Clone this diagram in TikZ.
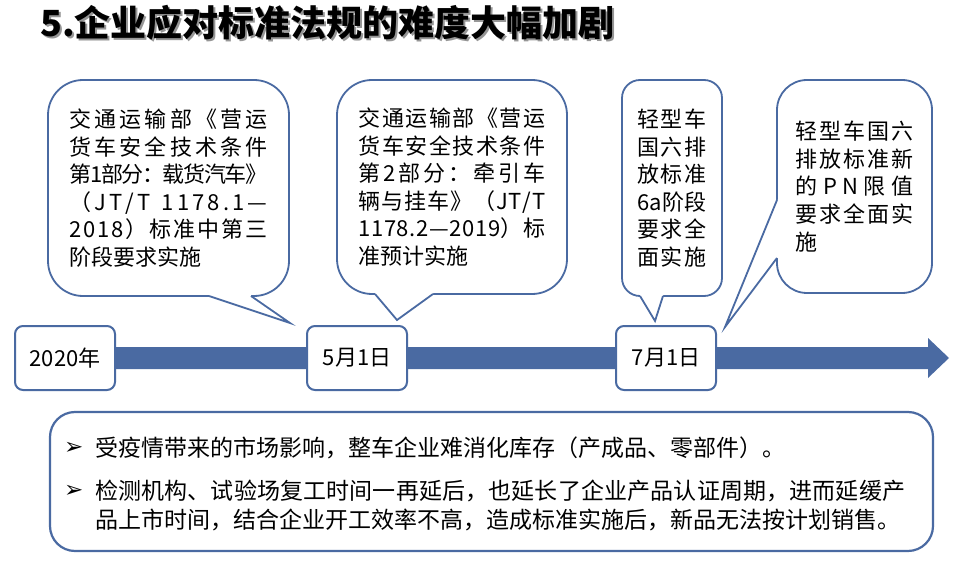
\documentclass[tikz,border=0pt]{standalone}
\usepackage{fontspec}
\setmainfont{Noto Sans CJK SC}
\newfontfamily\symfont{DejaVu Sans}
\usetikzlibrary{calc, positioning}

\definecolor{lineblue}{RGB}{74,106,162}
\definecolor{shadowgray}{RGB}{150,150,150}

\makeatletter
% spread one line of text over a given width
\newcommand\spr[2]{\hbox to #1{\@tfor\spr@ch:=#2\do{\spr@ch\hskip 0pt plus 1fil minus 2pt}\unskip}}
\makeatother
% text with a grey drop shadow
\newcommand\shadowtext[1]{\rlap{\hspace{2pt}\raisebox{-2pt}{\textcolor{shadowgray}{#1}}}#1}

\begin{document}
\begin{tikzpicture}[x=1pt, y=-1pt,
    callbox/.style={draw=lineblue, line width=1.8pt, fill=white, rounded corners=#1,
      inner sep=0pt, outer sep=0pt, align=left, font=\fontsize{22}{27.6}\selectfont},
    callbox/.default=35pt,
    tipline/.style={draw=lineblue, line width=1.8pt, line join=miter},
    datebox/.style={draw=lineblue, line width=2pt, fill=white, rounded corners=8pt,
      minimum width=100pt, minimum height=64pt, inner sep=0pt, font=\fontsize{22}{26}\selectfont},
    notetext/.style={anchor=base west, inner sep=0pt, font=\fontsize{23}{29}\selectfont},
    bullet/.style={anchor=base west, inner sep=0pt, font=\symfont\fontsize{23}{23}\selectfont}]
  \useasboundingbox (0,0) rectangle (970,567);

  % title
  \node[anchor=base west, inner sep=0pt, font=\fontsize{36}{40}\selectfont\bfseries]
    (title) at (40,37) {\shadowtext{5.企业应对标准法规的难度大幅加剧}};

  % callouts
  \node[callbox, minimum width=241pt, minimum height=216pt] (c1) at (168.5,188)
    {\spr{198pt}{交通运输部《营运}\\\spr{198pt}{货车安全技术条件}\\\spr{198pt}{第1部分：载货汽车》}\\
     \spr{198pt}{（JT/T~1178.1—}\\\spr{198pt}{2018）标准中第三}\\阶段要求实施};
  \node[callbox, minimum width=230pt, minimum height=214pt] (c2) at (452,187)
    {\spr{187pt}{交通运输部《营运}\\\spr{187pt}{货车安全技术条件}\\\spr{187pt}{第2部分：牵引车}\\
     \spr{187pt}{辆与挂车》（JT/T}\\\spr{187pt}{1178.2—2019）标}\\准预计实施};
  \node[callbox=18pt, minimum width=100pt, minimum height=216pt] (c3) at (672,188)
    {\spr{70pt}{轻型车}\\\spr{70pt}{国六排}\\\spr{70pt}{放标准}\\\spr{70pt}{6a阶段}\\
     \spr{70pt}{要求全}\\\spr{70pt}{面实施}};
  \node[callbox=30pt, minimum width=155pt, minimum height=213pt] (c4) at (854.5,186.5)
    {\spr{118pt}{轻型车国六}\\\spr{118pt}{排放标准新}\\\spr{118pt}{的PN限值}\\
     \spr{118pt}{要求全面实}\\施};

  \coordinate (t1) at (290,323);
  \coordinate (t2) at (397,320);
  \coordinate (t3) at (655,321);
  \coordinate (t4) at (725,327);

  \fill[white] ($(c1.south west)+(161,-3)$) -- ($(c1.south west)+(161,0)$) -- (t1)
    -- ($(c1.south west)+(203,0)$) -- ($(c1.south west)+(203,-3)$) -- cycle;
  \draw[tipline] ($(c1.south west)+(161,0)$) -- (t1) -- ($(c1.south west)+(203,0)$);
  \fill[white] ($(c2.south west)+(38,-3)$) -- ($(c2.south west)+(38,0)$) -- (t2)
    -- ($(c2.south west)+(96,0)$) -- ($(c2.south west)+(96,-3)$) -- cycle;
  \draw[tipline] ($(c2.south west)+(38,0)$) -- (t2) -- ($(c2.south west)+(96,0)$);
  \fill[white] ($(c3.south west)+(18,-3)$) -- ($(c3.south west)+(18,0)$) -- (t3)
    -- ($(c3.south west)+(41,0)$) -- ($(c3.south west)+(41,-3)$) -- cycle;
  \draw[tipline] ($(c3.south west)+(18,0)$) -- (t3) -- ($(c3.south west)+(41,0)$);
  \fill[white] ($(c4.north west)+(3,120)$) -- ($(c4.north west)+(0,120)$) -- (t4)
    -- ($(c4.north west)+(0,178)$) -- ($(c4.north west)+(3,178)$) -- cycle;
  \draw[tipline] ($(c4.north west)+(0,120)$) -- (t4) -- ($(c4.north west)+(0,178)$);

  % timeline
  \coordinate (tlstart) at (65,358);
  \coordinate (tlend) at (949,358);
  \fill[lineblue] ($(tlstart)+(0,-11)$) -- ($(tlend)+(-21,-11)$) -- ($(tlend)+(-21,-20)$)
    -- (tlend) -- ($(tlend)+(-21,20)$) -- ($(tlend)+(-21,11)$) -- ($(tlstart)+(0,11)$) -- cycle;

  \node[datebox] (d0) at (tlstart) {2020年};
  \node[datebox] (d1) at (357,358) {5月1日};
  \node[datebox] (d2) at (666,358) {7月1日};

  % notes
  \node[draw=lineblue, line width=2.2pt, fill=white, rounded corners=25pt,
    minimum width=883pt, minimum height=139pt] (note) at (491.5,481.5) {};
  \node[bullet] (b1) at (64,454) {➢};
  \node[notetext] (p1) at (95,456) {受疫情带来的市场影响，整车企业难消化库存（产成品、零部件）。};
  \node[bullet] (b2) at (64,497) {➢};
  \node[notetext] (p2) at (95,499)
    {\spr{810pt}{检测机构、试验场复工时间一再延后，也延长了企业产品认证周期，进而延缓产}};
  \node[notetext] (p3) at (95,528) {品上市时间，结合企业开工效率不高，造成标准实施后，新品无法按计划销售。};
\end{tikzpicture}
\end{document}
